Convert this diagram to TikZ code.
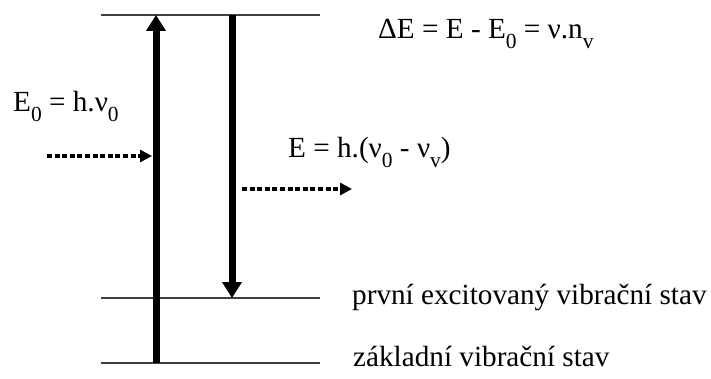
\documentclass[tikz,border=0pt]{standalone}
\usepackage{fontspec}
\setmainfont{Liberation Serif}
\usetikzlibrary{arrows.meta}
\newcommand{\lowsub}[1]{\raisebox{-0.32em}{\fontsize{21.5}{22}\selectfont #1}}

\begin{document}
\begin{tikzpicture}[x=1pt,y=-1pt,
level/.style={draw=black!75,line width=1.3pt},
jump/.style={line width=7pt,-{Triangle[length=16pt,width=19pt]}},
photon/.style={line width=3.6pt,dash pattern=on 5pt off 2.6pt,-{Triangle[length=12pt,width=12pt]}},
lbl/.style={font=\fontsize{29.2}{33}\selectfont,inner sep=0pt,anchor=base west}]
\useasboundingbox (0,0) rectangle (711,379);
% energy levels
\coordinate (topL) at (101,15);
\coordinate (topR) at (320,15);
\coordinate (excL) at (101,298);
\coordinate (excR) at (320,298);
\coordinate (grdL) at (101,363);
\coordinate (grdR) at (320,363);
\draw[level](topL)--(topR);
\draw[level](excL)--(excR);
\draw[level](grdL)--(grdR);
% transitions
\coordinate (upA) at (156,363);
\coordinate (upB) at (156,15);
\coordinate (dnA) at (232,15);
\coordinate (dnB) at (232,298);
\draw[jump](upA)--(upB);
\draw[jump](dnA)--(dnB);
% photons
\coordinate (inA) at (47,156);
\coordinate (inB) at (152,156);
\coordinate (outA) at (242,189);
\coordinate (outB) at (352,189);
\draw[photon](inA)--(inB);
\draw[photon](outA)--(outB);
% labels
\node[lbl](dE) at (378,39) {ΔE = E - E\lowsub{0} = ν.n\lowsub{v}};
\node[lbl](E0) at (13,112) {E\lowsub{0} = h.ν\lowsub{0}};
\node[lbl](E) at (288,158) {E = h.(ν\lowsub{0} - ν\lowsub{v})};
\node[lbl](exc) at (352,304) {první excitovaný vibrační stav};
\node[lbl](grd) at (353,366) {základní vibrační stav};
\end{tikzpicture}
\end{document}
